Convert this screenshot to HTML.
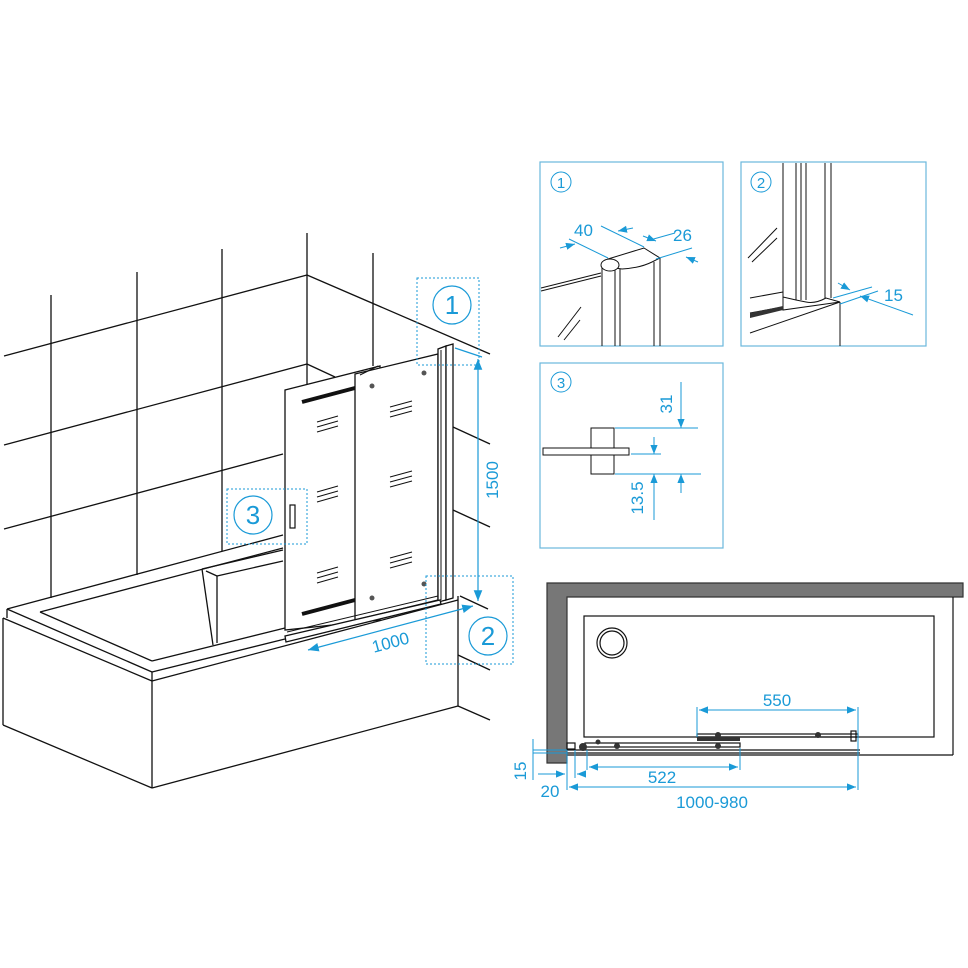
<!DOCTYPE html>
<html><head><meta charset="utf-8"><style>
html,body{margin:0;padding:0;background:#fff;}
svg{display:block;}
text{font-family:"Liberation Sans",sans-serif;fill:#1a9ad7;}
</style></head><body>
<svg width="968" height="968" viewBox="0 0 968 968" xmlns="http://www.w3.org/2000/svg">
<defs>
<marker id="a" viewBox="0 0 10 10" refX="10" refY="5" markerWidth="9" markerHeight="9" orient="auto-start-reverse"><path d="M0,1 L10,5 L0,9 z" fill="#1a9ad7"/></marker>
</defs>
<g stroke="#111" stroke-width="1.3" fill="none">
<line x1="4" y1="356" x2="307" y2="275"/>
<line x1="307" y1="275" x2="490" y2="354"/>
<line x1="4" y1="445" x2="307" y2="364"/>
<line x1="307" y1="364" x2="335" y2="377"/>
<line x1="453" y1="427" x2="490" y2="444"/>
<line x1="4" y1="529" x2="283" y2="454"/>
<line x1="453" y1="510" x2="490" y2="527"/>
<line x1="51" y1="295" x2="51" y2="598"/>
<line x1="137" y1="272" x2="137" y2="575"/>
<line x1="222" y1="249" x2="222" y2="551"/>
<line x1="307" y1="233" x2="307" y2="384"/>
<line x1="373" y1="253" x2="373" y2="366"/>
<line x1="7" y1="609" x2="283" y2="535"/>
<line x1="40" y1="612" x2="283" y2="548"/>
<line x1="40" y1="612" x2="152" y2="661"/>
<line x1="152" y1="661" x2="285" y2="628"/>
<line x1="7" y1="609" x2="7" y2="618"/>
<line x1="7" y1="609" x2="152" y2="672"/>
<line x1="152" y1="672" x2="285" y2="639"/>
<line x1="3" y1="618" x2="152" y2="681"/>
<line x1="152" y1="681" x2="458" y2="600"/>
<line x1="152" y1="672" x2="152" y2="681"/>
<line x1="3" y1="618" x2="3" y2="725"/>
<line x1="3" y1="725" x2="152" y2="788"/>
<line x1="152" y1="681" x2="152" y2="788"/>
<line x1="152" y1="788" x2="458" y2="706"/>
<line x1="458" y1="596" x2="458" y2="706"/>
<line x1="458" y1="706" x2="490" y2="720"/>
<line x1="458" y1="655" x2="490" y2="670"/>
<line x1="460" y1="596" x2="488" y2="609"/>
<line x1="202" y1="569" x2="283" y2="550"/>
<line x1="202" y1="569" x2="213" y2="645"/>
<line x1="206" y1="571" x2="217" y2="576"/>
<line x1="217" y1="576" x2="283" y2="561"/>
<line x1="217" y1="576" x2="217" y2="643"/>
</g>
<g stroke="#111" stroke-width="1.3" fill="#fff">
<path d="M285,390 L380,366 L380,620 L285,630 Z"/>
<path d="M355,374 L438,354 L438,600 L355,620 Z"/>
<path d="M438,349 L446,346 L446,600 L438,602 Z"/>
<path d="M446,346 L453,344 L453,598 L446,600 Z"/>
<path d="M285,636 L440,600 L441,604 L286,642 Z"/>
</g>
<g stroke="#111" stroke-width="1" fill="none">
<line x1="287" y1="632" x2="438" y2="596"/>
<line x1="441" y1="350" x2="441" y2="600"/>
<line x1="360" y1="375" x2="378" y2="366"/>
</g>
<g stroke="#111" stroke-width="4">
<line x1="302" y1="402" x2="355" y2="388"/>
<line x1="302" y1="614" x2="355" y2="600"/>
</g>
<g stroke="#111" stroke-width="1">
<path d="M317,422 L338,416 M317,427 L338,421 M317,432 L338,426"/>
<path d="M317,492 L338,486 M317,497 L338,491 M317,502 L338,496"/>
<path d="M317,573 L338,567 M317,578 L338,572 M317,583 L338,577"/>
<path d="M390,407 L412,401 M390,412 L412,406 M390,417 L412,411"/>
<path d="M390,477 L412,471 M390,482 L412,476 M390,487 L412,481"/>
<path d="M390,558 L412,552 M390,563 L412,557 M390,568 L412,562"/>
</g>
<g fill="#555"><circle cx="372" cy="386" r="2.5"/><circle cx="424" cy="373" r="2.5"/><circle cx="424" cy="584" r="2.5"/><circle cx="372" cy="598" r="2.5"/></g>
<rect x="290" y="505" width="5" height="23" fill="#fff" stroke="#111" stroke-width="1.2"/>
<g stroke="#1a9ad7" stroke-width="1" fill="none" stroke-dasharray="2,2">
<rect x="417" y="278" width="62" height="87"/>
<rect x="227" y="489" width="80" height="55"/>
<rect x="426" y="576" width="87" height="88"/>
</g>
<g stroke="#1a9ad7" stroke-width="1.2" fill="none">
<circle cx="452" cy="305" r="19"/><circle cx="253" cy="515" r="19"/><circle cx="488" cy="636" r="19"/>
<line x1="478" y1="359" x2="478" y2="601" marker-start="url(#a)" marker-end="url(#a)"/>
<line x1="455" y1="348" x2="482" y2="357"/>
<line x1="308" y1="650" x2="473" y2="606" marker-start="url(#a)" marker-end="url(#a)"/>
</g>
<text x="452" y="314" font-size="26" text-anchor="middle">1</text>
<text x="253" y="524" font-size="26" text-anchor="middle">3</text>
<text x="488" y="645" font-size="26" text-anchor="middle">2</text>
<text transform="translate(498,480) rotate(-90)" font-size="17" text-anchor="middle">1500</text>
<text transform="translate(392,648) rotate(-15)" font-size="17" text-anchor="middle">1000</text>
<g stroke="#6ab8dc" stroke-width="1.2" fill="none">
<rect x="540" y="162" width="183" height="184"/>
<rect x="741" y="162" width="185" height="184"/>
<rect x="540" y="363" width="183" height="185"/>
</g>
<g stroke="#1a9ad7" stroke-width="1" fill="none">
<circle cx="561" cy="182" r="10"/><circle cx="761" cy="182" r="10"/><circle cx="561" cy="382" r="10"/>
</g>
<text x="561" y="188" font-size="15" text-anchor="middle">1</text>
<text x="761" y="188" font-size="15" text-anchor="middle">2</text>
<text x="561" y="388" font-size="15" text-anchor="middle">3</text>
<g stroke="#111" stroke-width="1" fill="none">
<line x1="541" y1="288" x2="601" y2="273"/><line x1="541" y1="291" x2="601" y2="276"/>
<line x1="602" y1="266" x2="602" y2="346"/><line x1="615" y1="268" x2="615" y2="346"/>
<line x1="620" y1="268" x2="620" y2="346"/><line x1="654" y1="262" x2="654" y2="346"/><line x1="660" y1="258" x2="660" y2="346"/>
<path d="M608,259 L644,248 L660,258 L652,262 Q640,268 622,269 L615,268 Z" fill="#fff"/>
<ellipse cx="610" cy="265" rx="9" ry="6" fill="#fff"/>
<path d="M558,337 L581,307 M564,340 L580,320 M748,258 L777,228 M752,262 L777,238"/>
</g>
<g stroke="#1a9ad7" stroke-width="1" fill="none">
<line x1="569" y1="239" x2="608" y2="258"/><line x1="601" y1="226" x2="644" y2="247"/>
<line x1="560" y1="248" x2="575" y2="244" marker-end="url(#a)"/>
<line x1="633" y1="228" x2="618" y2="231" marker-end="url(#a)"/>
<line x1="643" y1="236" x2="656" y2="241" marker-end="url(#a)"/>
<line x1="656" y1="259" x2="692" y2="248"/><line x1="650" y1="240" x2="675" y2="233"/>
<line x1="698" y1="262" x2="686" y2="257" marker-end="url(#a)"/>
</g>
<text x="574" y="236" font-size="17">40</text>
<text x="673" y="241" font-size="17">26</text>
<g stroke="#111" stroke-width="1" fill="none">
<line x1="783" y1="163" x2="783" y2="297"/><line x1="796" y1="163" x2="796" y2="300"/>
<line x1="801" y1="163" x2="801" y2="300"/><line x1="806" y1="163" x2="806" y2="300"/>
<line x1="825" y1="163" x2="825" y2="298"/><line x1="831" y1="163" x2="831" y2="298"/>
<path d="M783,297 L783,310 L840,302 L826,298 Q815,304 806,302 L796,300 Z"/>
<line x1="750" y1="298" x2="783" y2="292"/><line x1="750" y1="313" x2="783" y2="307"/>
<line x1="750" y1="333" x2="840" y2="302"/><line x1="840" y1="302" x2="840" y2="346"/>
</g>
<path d="M750,318 L783,310 L783,306 L750,313 Z" fill="#333"/>
<g stroke="#1a9ad7" stroke-width="1" fill="none">
<line x1="833" y1="298" x2="872" y2="287"/><line x1="840" y1="304" x2="878" y2="291"/>
<line x1="838" y1="283" x2="850" y2="290" marker-end="url(#a)"/>
<line x1="913" y1="315" x2="860" y2="296" marker-end="url(#a)"/>
</g>
<text x="884" y="301" font-size="17">15</text>
<g stroke="#111" stroke-width="1" fill="#fff">
<rect x="591" y="428" width="23" height="46"/>
<rect x="543" y="448" width="86" height="7"/>
</g>
<g stroke="#1a9ad7" stroke-width="1" fill="none">
<line x1="615" y1="428" x2="698" y2="428"/><line x1="631" y1="454" x2="661" y2="454"/><line x1="615" y1="474" x2="701" y2="474"/>
<line x1="681" y1="382" x2="681" y2="428" marker-end="url(#a)"/>
<line x1="654" y1="437" x2="654" y2="454" marker-end="url(#a)"/>
<line x1="654" y1="520" x2="654" y2="474" marker-end="url(#a)"/>
<line x1="681" y1="493" x2="681" y2="474" marker-end="url(#a)"/>
</g>
<text transform="translate(672,404) rotate(-90)" font-size="17" text-anchor="middle">31</text>
<text transform="translate(643,498) rotate(-90)" font-size="17" text-anchor="middle">13.5</text>
<path d="M547,583 L963,583 L963,597 L567,597 L567,763 L547,763 Z" fill="#777" stroke="#333" stroke-width="1.2"/>
<g stroke="#111" stroke-width="1.2" fill="none">
<line x1="567" y1="755" x2="953" y2="755"/><line x1="953" y1="597" x2="953" y2="755"/>
<rect x="584" y="616" width="350" height="121"/>
<circle cx="612" cy="643" r="15"/><circle cx="612" cy="643" r="12"/>
<line x1="567" y1="750" x2="860" y2="750"/><line x1="567" y1="753" x2="860" y2="753"/>
<rect x="585" y="743" width="155" height="4"/>
<rect x="697" y="734" width="161" height="3"/>
<rect x="567" y="743" width="8" height="6"/><rect x="851" y="731" width="5" height="10"/>
</g>
<g fill="#333"><rect x="697" y="737" width="43" height="4"/><circle cx="617" cy="746" r="3"/><circle cx="718" cy="746" r="3"/><circle cx="598" cy="742" r="2.5"/><circle cx="818" cy="735" r="3"/><circle cx="718" cy="735" r="3"/><circle cx="583" cy="747" r="4"/></g>
<g stroke="#1a9ad7" stroke-width="1" fill="none">
<line x1="699" y1="710" x2="856" y2="710" marker-start="url(#a)" marker-end="url(#a)"/>
<line x1="697" y1="707" x2="697" y2="737"/><line x1="858" y1="707" x2="858" y2="790"/>
<line x1="589" y1="767" x2="738" y2="767" marker-start="url(#a)" marker-end="url(#a)"/>
<line x1="740" y1="748" x2="740" y2="770"/><line x1="587" y1="750" x2="587" y2="770"/>
<line x1="569" y1="787" x2="856" y2="787" marker-start="url(#a)" marker-end="url(#a)"/>
<line x1="567" y1="750" x2="567" y2="790"/><line x1="575" y1="750" x2="575" y2="778"/>
<line x1="538" y1="774" x2="565" y2="774" marker-end="url(#a)"/><line x1="585" y1="774" x2="577" y2="774" marker-end="url(#a)"/>
<line x1="533" y1="739" x2="533" y2="780"/><line x1="533" y1="750" x2="567" y2="750"/><line x1="533" y1="753" x2="567" y2="753"/>
</g>
<text x="777" y="706" font-size="17" text-anchor="middle">550</text>
<text x="662" y="783" font-size="17" text-anchor="middle">522</text>
<text x="550" y="797" font-size="17" text-anchor="middle">20</text>
<text x="712" y="808" font-size="17" text-anchor="middle">1000-980</text>
<text transform="translate(526,771) rotate(-90)" font-size="17" text-anchor="middle">15</text>
</svg>
</body></html>
